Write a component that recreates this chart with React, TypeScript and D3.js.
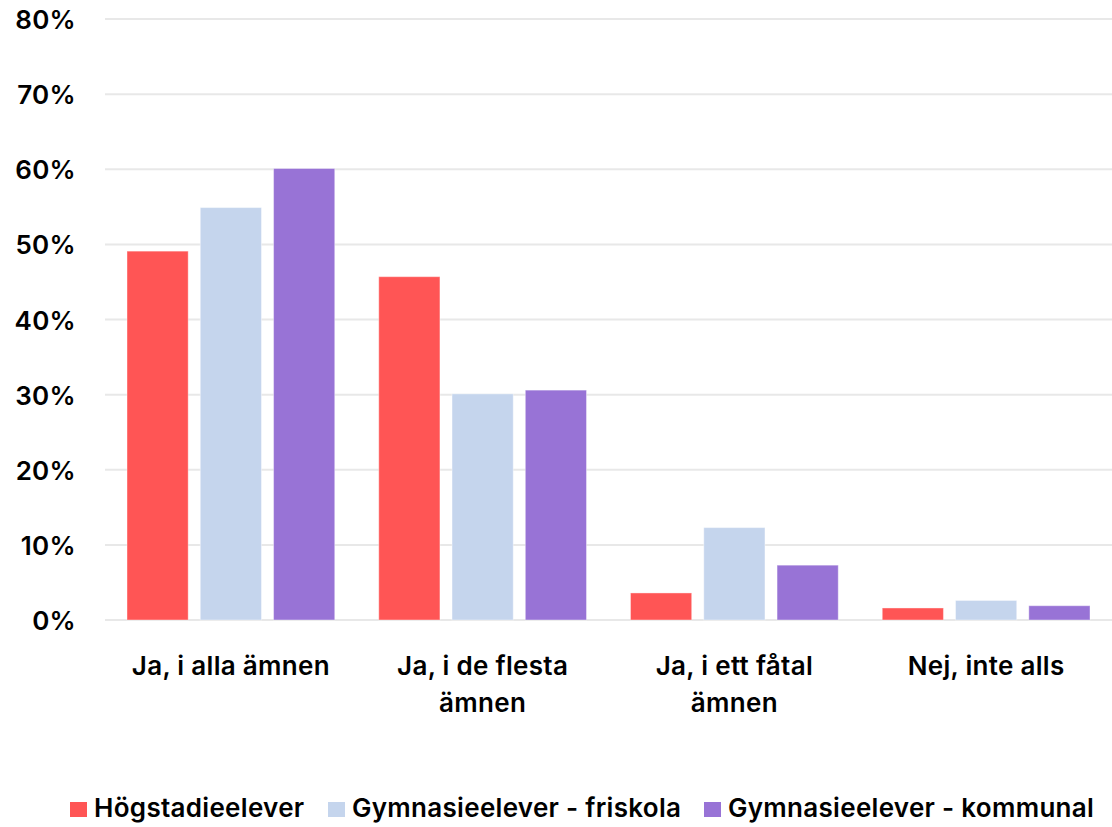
import { useEffect, useRef } from 'react';
import * as d3 from 'd3';

const categories = [
  ['Ja, i alla ämnen'],
  ['Ja, i de flesta', 'ämnen'],
  ['Ja, i ett fåtal', 'ämnen'],
  ['Nej, inte alls'],
];
const seriesNames = ['Högstadieelever', 'Gymnasieelever - friskola', 'Gymnasieelever - kommunal'];
const hogstadie = [49.1, 45.7, 3.6, 1.6];
const friskola = [54.9, 30.1, 12.3, 2.6];
const kommunal = [60.1, 30.6, 7.3, 1.9];
const yTicks = [0, 10, 20, 30, 40, 50, 60, 70, 80];
const colors = ['#ff5555', '#c5d5ed', '#9873d6'];

const W = 1112;
const H = 827;
const FONT = 'Inter, "Liberation Sans", sans-serif';

function Chart() {
  const svgRef = useRef(null);

  useEffect(() => {
    const svg = d3.select(svgRef.current);
    svg.selectAll('*').remove();

    const series = [hogstadie, friskola, kommunal];
    const x0 = d3.scaleBand().domain(d3.range(categories.length).map(String)).range([105, 1112]);
    const x1 = d3.scaleBand().domain(d3.range(series.length).map(String)).range([22, x0.bandwidth() - 22]).paddingInner(0.165);
    const y = d3.scaleLinear().domain([0, 80]).range([620, 19]);

    const txt = (sel: any) =>
      sel.attr('font-family', FONT)
        .attr('font-size', 26)
        .attr('font-weight', 600)
        .attr('letter-spacing', 0.3)
        .attr('fill', '#000');

    // grid
    svg.append('g')
      .selectAll('line')
      .data(yTicks)
      .join('line')
      .attr('x1', 105)
      .attr('x2', 1112)
      .attr('y1', d => y(d))
      .attr('y2', d => y(d))
      .attr('stroke', '#e8e8e8')
      .attr('stroke-width', 2);

    // y labels
    svg.append('g')
      .selectAll('text')
      .data(yTicks)
      .join('text')
      .attr('x', 76)
      .attr('y', d => y(d) + 10)
      .attr('text-anchor', 'end')
      .call(txt)
      .text(d => d + '%');

    // bars
    const groups = svg.append('g')
      .selectAll('g')
      .data(categories)
      .join('g')
      .attr('transform', (_, i) => `translate(${x0(String(i))},0)`);

    groups.selectAll('rect')
      .data((_, i) => series.map((s, j) => ({ v: s[i], j })))
      .join('rect')
      .attr('x', d => x1(String(d.j)) as number)
      .attr('width', x1.bandwidth())
      .attr('y', d => y(d.v))
      .attr('height', d => y(0) - y(d.v))
      .attr('fill', d => colors[d.j])
      .attr('stroke', 'rgba(255,255,255,0.4)')
      .attr('stroke-width', 1);

    // category labels
    groups.append('text')
      .attr('x', x0.bandwidth() / 2)
      .attr('text-anchor', 'middle')
      .call(txt)
      .selectAll('tspan')
      .data(d => d)
      .join('tspan')
      .attr('x', x0.bandwidth() / 2)
      .attr('y', (_, k) => 675 + k * 37)
      .text(d => d);

    // legend
    const legendX = [70, 328, 704];
    const lg = svg.append('g')
      .selectAll('g')
      .data(seriesNames)
      .join('g')
      .attr('transform', (_, i) => `translate(${legendX[i]},0)`);
    lg.append('rect')
      .attr('x', 0)
      .attr('y', 802)
      .attr('width', 17)
      .attr('height', 15)
      .attr('fill', (_, i) => colors[i]);
    lg.append('text')
      .attr('x', 24)
      .attr('y', 817)
      .call(txt)
      .text(d => d);
  }, []);

  return <svg ref={svgRef} width={W} height={H} style={{ display: 'block' }} />;
}

export default function App() {
  return (
    <div style={{ position: 'fixed', left: 0, top: 0, width: W, height: H, overflow: 'hidden', background: '#fff' }}>
      <Chart />
    </div>
  );
}
